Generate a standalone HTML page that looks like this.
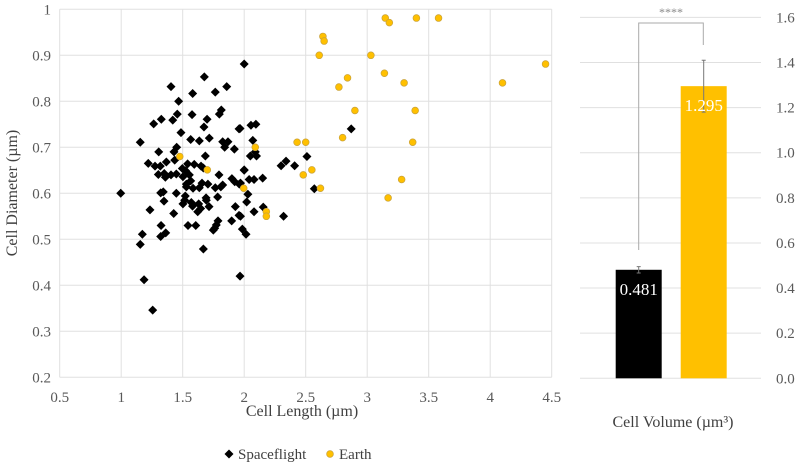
<!DOCTYPE html>
<html><head><meta charset="utf-8"><style>
body{margin:0;background:#fff;width:800px;height:466px;overflow:hidden}
svg{display:block;font-family:"Liberation Serif",serif}
</style></head><body>
<svg id="c" width="800" height="466"></svg>
<script>
const xTicks=[0.5,1,1.5,2,2.5,3,3.5,4,4.5];
const yTicks=[0.2,0.3,0.4,0.5,0.6,0.7,0.8,0.9,1];
const spaceX=[2.0,2.055,2.095,1.966,2.07,2.09,2.05,2.10,2.0,2.04,2.08,2.15,1.97,2.03,2.02,2.155,2.08,1.97,2.32,2.87,2.51,2.30,2.34,2.41,2.57,1.676,1.405,1.858,1.581,1.765,1.467,1.814,1.798,1.576,1.456,1.419,1.326,1.264,1.698,1.673,1.958,1.486,1.716,1.565,1.635,1.155,1.825,1.868,1.841,1.92,1.451,1.429,1.305,1.684,1.435,1.22,1.275,1.318,1.367,1.54,1.594,1.649,1.497,1.524,1.302,1.35,1.359,1.405,1.448,1.502,1.554,1.668,1.795,2.0,1.90,1.923,1.96,1.657,1.705,1.565,1.53,1.53,1.584,1.635,1.765,1.81,1.825,1.321,1.342,1.448,0.996,1.521,1.516,1.348,1.69,1.692,1.784,1.57,1.58,1.63,1.646,1.622,1.714,1.502,1.928,1.234,1.427,1.958,1.787,1.773,1.749,1.76,1.898,1.985,2.015,1.543,1.606,1.324,1.362,1.321,1.172,1.155,1.668,1.186,1.966,1.256];
const spaceY=[0.881,0.748,0.75,0.741,0.715,0.69,0.681,0.681,0.65,0.63,0.63,0.633,0.622,0.598,0.581,0.57,0.56,0.55,0.55,0.74,0.68,0.66,0.67,0.66,0.61,0.853,0.832,0.832,0.817,0.82,0.80,0.781,0.772,0.771,0.772,0.759,0.761,0.751,0.761,0.744,0.74,0.732,0.72,0.717,0.714,0.711,0.712,0.712,0.70,0.696,0.70,0.69,0.69,0.681,0.672,0.665,0.659,0.659,0.668,0.664,0.663,0.659,0.654,0.649,0.641,0.643,0.635,0.64,0.642,0.636,0.64,0.655,0.64,0.651,0.632,0.625,0.62,0.622,0.62,0.627,0.62,0.614,0.611,0.612,0.612,0.614,0.618,0.601,0.603,0.60,0.60,0.594,0.585,0.583,0.59,0.585,0.592,0.58,0.572,0.577,0.567,0.56,0.571,0.577,0.571,0.564,0.556,0.552,0.54,0.531,0.52,0.524,0.54,0.522,0.511,0.53,0.53,0.53,0.514,0.506,0.511,0.489,0.479,0.412,0.42,0.346];
const earthX=[3.147,3.18,3.40,3.58,2.64,2.65,2.61,3.03,4.45,3.14,2.84,3.30,4.10,2.77,2.90,3.39,2.80,2.43,2.50,3.37,2.09,2.55,2.48,3.28,2.62,1.996,3.17,2.18,2.18,1.476,1.70];
const earthY=[0.981,0.971,0.981,0.981,0.941,0.931,0.90,0.90,0.881,0.861,0.851,0.84,0.84,0.831,0.78,0.78,0.721,0.711,0.711,0.711,0.70,0.651,0.64,0.63,0.611,0.611,0.59,0.56,0.55,0.68,0.651];
const barLabels=["Spaceflight","Earth"];
const barValues=[0.481,1.295];
const barErrors=[0.014,0.115];
const barTicks=[0,0.2,0.4,0.6,0.8,1.0,1.2,1.4,1.6];

const NS="http://www.w3.org/2000/svg",svg=document.getElementById('c');
function mk(t,a,txt){const e=document.createElementNS(NS,t);for(const k in a)e.setAttribute(k,a[k]);if(txt!==undefined)e.textContent=txt;svg.appendChild(e);return e;}
const sx=v=>59.7+(v-0.5)*123, sy=v=>9.3+(1-v)*460;
const by=v=>378.3-v*225.6;
// scatter grid
xTicks.forEach(t=>{const l=mk('line',{x1:sx(t),x2:sx(t),y1:sy(1),y2:sy(0.2),stroke:'#e0e0e0','stroke-width':1});

const tx=mk('text',{x:sx(t),y:402,'text-anchor':'middle','font-size':15,fill:'#595959'},String(t));
});
yTicks.forEach(t=>{const l=mk('line',{x1:sx(0.5),x2:sx(4.5),y1:sy(t),y2:sy(t),stroke:'#e0e0e0','stroke-width':1});

const tx=mk('text',{x:51,y:sy(t)+5,'text-anchor':'end','font-size':15,fill:'#595959'},String(t));
});
spaceX.forEach((v,i)=>{const x=sx(v),y=sy(spaceY[i]);const p=mk('path',{d:`M${x} ${y-4.5}L${x+4.5} ${y}L${x} ${y+4.5}L${x-4.5} ${y}Z`,fill:'#000'});
});
earthX.forEach((v,i)=>{const c=mk('circle',{cx:sx(v),cy:sy(earthY[i]),r:3.4,fill:'#ffc000',stroke:'#c9a23a','stroke-width':0.7});
});
let t=mk('text',{x:302,y:416,'text-anchor':'middle','font-size':16,fill:'#404040'},'Cell Length (µm)');

t=mk('text',{x:17,y:193,'text-anchor':'middle','font-size':16,fill:'#404040',transform:'rotate(-90 17 193)'},'Cell Diameter (µm)');

// legend
let g=mk('path',{d:'M229 449.5L233.5 454L229 458.5L224.5 454Z',fill:'#000'});

t=mk('text',{x:238,y:459,'font-size':15,fill:'#404040'},'Spaceflight');

g=mk('circle',{cx:330,cy:454,r:3.4,fill:'#ffc000',stroke:'#c9a23a','stroke-width':0.7});

t=mk('text',{x:339,y:459,'font-size':15,fill:'#404040'},'Earth');

// bar chart
barTicks.forEach(v=>{const l=mk('line',{x1:580,x2:761,y1:by(v),y2:by(v),stroke:'#e0e0e0','stroke-width':1});

const tx=mk('text',{x:776,y:by(v)+5,'font-size':15,fill:'#595959'},v.toFixed(1));
});
const barX=[615.7,680.7],bw=46,cols=['#000','#ffc000'];
barValues.forEach((v,i)=>{const r=mk('rect',{x:barX[i],y:by(v),width:bw,height:by(0)-by(v),fill:cols[i]});

const cx=barX[i]+bw/2,e=barErrors[i];
const el=mk('path',{d:`M${cx} ${by(v+e)}V${by(v-e)}M${cx-2} ${by(v+e)}H${cx+2}M${cx-2} ${by(v-e)}H${cx+2}`,stroke:'#777','stroke-width':1,fill:'none'});

const tx=mk('text',{x:cx,y:by(v)+25,'text-anchor':'middle','font-size':17,fill:'#fff'},v.toFixed(3));
});
const br=mk('path',{d:'M638.7 250V23H703.3V45',stroke:'#aaa','stroke-width':1,fill:'none'});

t=mk('text',{x:671,y:16,'text-anchor':'middle','font-size':12,fill:'#888'},'****');

t=mk('text',{x:673,y:427,'text-anchor':'middle','font-size':16,fill:'#404040'},'Cell Volume (µm³)');

</script>
</body></html>
